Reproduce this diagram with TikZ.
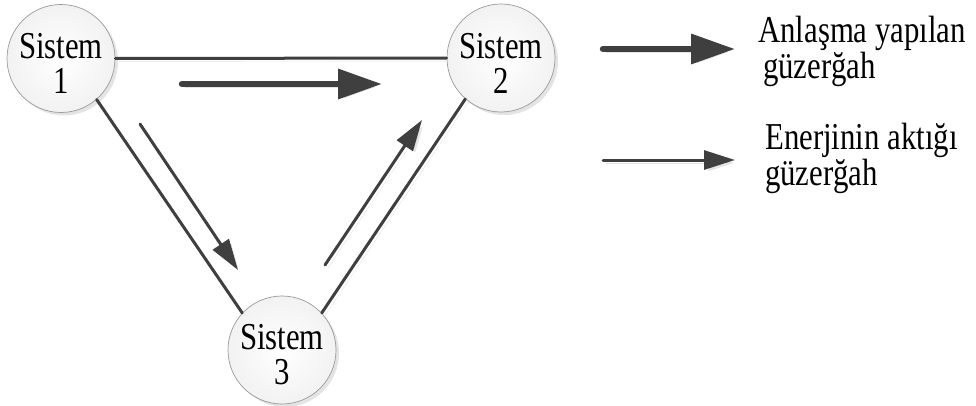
\documentclass[tikz,border=0pt]{standalone}
\usepackage{fontspec}
\setmainfont{Liberation Serif}[FakeStretch=0.81]
\usetikzlibrary{arrows.meta,shadows}
\definecolor{linec}{HTML}{3F3F3F}
\definecolor{shadowc}{HTML}{E4E4E4}
\definecolor{rimc}{HTML}{9A9A9A}
\definecolor{fillc}{HTML}{F2F2F2}
\tikzset{
  sys/.style={circle, minimum size=108pt, inner sep=0pt, draw=rimc, line width=0.7pt,
    inner color=white, outer color=fillc,
    drop shadow={shadow xshift=3pt, shadow yshift=-3pt, fill=shadowc, opacity=1}},
  systext/.style={align=center, font=\fontsize{38}{35}\selectfont, yshift=-5pt},
  conn/.style={draw=linec, line width=3pt, line cap=round,
    preaction={draw=shadowc, transform canvas={shift={(3pt,-3pt)}}}},
  thinarrow/.style={conn, -{Triangle[length=31pt, width=19pt]}},
  thickarrow/.style={draw=linec, line width=6.5pt, line cap=round,
    -{Triangle[length=44pt, width=29pt]},
    preaction={draw=shadowc, transform canvas={shift={(3pt,-3pt)}}}},
  legtext/.style={align=left, anchor=base west, font=\fontsize{38}{33}\selectfont, inner sep=0pt}
}
\begin{document}
\begin{tikzpicture}[x=1pt, y=-1pt]
\useasboundingbox (0,0) rectangle (976,405);
\node[sys, label={[systext]center:Sistem\\1}] (s1) at (61,58.5) {};
\node[sys, label={[systext]center:Sistem\\2}] (s2) at (501,58) {};
\node[sys, label={[systext]center:Sistem\\3}] (s3) at (282,350) {};
% connectors between systems
\draw[conn] (s1) -- (s2);
\draw[conn] (s1.-49) -- (s3.137);
\draw[conn] (s3.43) -- (s2.-131);
% flow arrows
\coordinate (t1) at (182,84);
\coordinate (t2) at (382,84);
\coordinate (a1) at (140,124);
\coordinate (b1) at (238,270);
\coordinate (a2) at (325,265);
\coordinate (b2) at (422,120);
\draw[thickarrow] (t1) -- (t2);
\draw[thinarrow] (a1) -- (b1);
\draw[thinarrow] (a2) -- (b2);
% legend
\coordinate (l1) at (603,49);
\coordinate (l2) at (735,49);
\coordinate (l3) at (603,160);
\coordinate (l4) at (735,160);
\draw[thickarrow] (l1) -- (l2);
\draw[thinarrow] (l3) -- (l4);
\node[legtext] (lt1) at (758,78) {Anlaşma yapılan\\\hspace*{5pt}güzerğah};
\node[legtext] (lt2) at (765,185) {Enerjinin aktığı\\güzerğah};
\end{tikzpicture}
\end{document}
